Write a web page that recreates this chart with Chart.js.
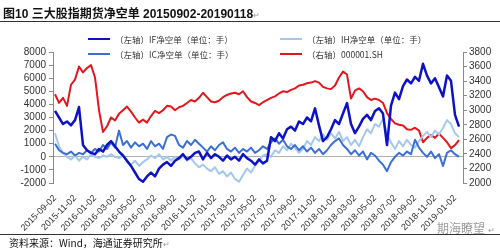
<!DOCTYPE html>
<html>
<head>
<meta charset="utf-8">
<script src="https://cdn.jsdelivr.net/npm/chart.js@4.4.1/dist/chart.umd.min.js"></script>
<style>
  html, body { margin: 0; padding: 0; background: #fff; }
  #wrap { position: relative; width: 500px; height: 250px; overflow: hidden;
          font-family: "Liberation Sans", "Noto Sans CJK SC", sans-serif; }
  #chart { position: absolute; left: 0; top: 0; }
  .title { position: absolute; left: 3px; top: 4px; font-size: 12px; font-weight: bold; color: #111; white-space: nowrap; }
  .rule { position: absolute; left: 0; width: 500px; height: 1px; background: #333; }
  .leg { position: absolute; font-size: 8.5px; color: #333; white-space: nowrap; display: flex; align-items: center;
         font-family: "Noto Sans CJK SC", sans-serif; }
  .leg i { display: inline-block; width: 22px; margin-right: 5px; }
  .src { position: absolute; left: 9px; top: 235px; font-size: 10px; color: #111; white-space: nowrap;
         font-family: "Noto Sans CJK SC", sans-serif; }
  .mark { position: absolute; left: 437px; top: 219px; font-size: 12px; color: #9a9a9a; white-space: nowrap;
          font-family: "Noto Sans CJK SC", sans-serif; }
  .ret { color: #999; font-size: 8px; font-weight: normal; }
</style>
</head>
<body>
<div id="wrap">
  <canvas id="chart" width="500" height="250"></canvas>
  <div class="title">图10 三大股指期货净空单 20150902-20190118<span class="ret">↵</span></div>
  <div class="rule" style="top:21px"></div>
  <div id="legend"></div>
  <div class="rule" style="top:234px"></div>
  <div class="src">资料来源：Wind，海通证券研究所<span class="ret">↵</span></div>
  <div class="mark">期海瞭望 <span class="ret">↵</span></div>
</div>
<script>
/* tick labels every two months */
const tickLabels = ['2015-09-02','2015-11-02','2016-01-02','2016-03-02','2016-05-02','2016-07-02','2016-09-02',
  '2016-11-02','2017-01-02','2017-03-02','2017-05-02','2017-07-02','2017-09-02','2017-11-02','2018-01-02',
  '2018-03-02','2018-05-02','2018-07-02','2018-09-02','2018-11-02','2019-01-02'];

/* samples roughly every 12 days, 2015-09-02 .. 2019-01-18 */
const ifShort = [3500,3000,2500,2700,2400,2800,3800,900,500,300,200,600,400,900,1200,800,400,100,-300,-700,
  -1200,-1700,-1900,-1500,-1200,-1500,-900,-600,-400,-700,-300,-100,200,-200,0,300,400,-200,300,-100,
  200,0,-300,100,-200,0,-300,200,-100,-300,-600,-200,-500,-300,1500,1200,1800,1400,2100,2300,
  2000,2700,2500,3000,2700,3700,2400,1200,1500,2100,2800,2500,3300,4100,2500,1800,2300,2900,3200,2800,
  3500,3700,3300,900,3900,4900,4400,5400,5900,5600,6100,5800,7100,6200,5600,6000,5300,4600,6200,5800,
  3200,2300];
const icShort = [1000,500,300,200,400,100,300,200,500,300,600,400,900,600,1100,700,2000,900,1200,700,
  1100,800,1000,600,1200,800,1000,600,1500,1700,1600,900,700,1200,900,1300,1000,700,400,800,
  500,900,1100,600,400,700,300,600,400,700,300,500,800,600,1100,1400,1000,1300,800,600,
  900,500,800,400,700,300,600,200,500,900,1200,1400,900,600,200,500,100,400,-200,300,
  100,-300,-600,-1100,-400,0,300,100,400,200,1300,700,300,0,400,-100,200,-700,300,500,
  200,0];
const ihShort = [1800,800,300,0,-200,100,-300,0,-200,200,0,-100,100,0,200,0,-100,100,-400,-600,
  -300,-700,-400,-200,100,-100,200,-200,0,-300,0,-200,100,-300,-100,-500,-800,-600,-900,-1100,
  -800,-1300,-1100,-1500,-1200,-1700,-1900,-1400,-900,-1200,-700,-300,100,200,0,500,300,800,500,1000,
  700,300,600,1200,900,1500,1200,1700,1300,1800,1400,1900,1200,1500,900,1300,800,1500,2100,1800,
  2500,2300,2900,1700,1100,600,1200,800,1300,900,700,1200,1600,1900,1500,2000,1700,2200,2800,2500,
  1800,1500];
const shIndex = [3220,3100,3170,3060,3350,3420,3600,3520,3580,3620,3450,3000,2700,2780,2900,2860,2950,3000,3050,2980,
  2900,2830,2870,2830,2920,2990,2960,3000,3060,3050,3000,3040,3060,3100,3140,3120,3170,3240,3180,3120,
  3110,3130,3180,3210,3230,3240,3220,3260,3180,3120,3100,3070,3110,3140,3170,3190,3230,3260,3250,3280,
  3300,3340,3350,3370,3380,3400,3380,3320,3300,3290,3340,3450,3530,3490,3160,3270,3300,3260,3180,3140,
  3160,3140,3100,2960,2880,2820,2800,2790,2740,2730,2760,2720,2560,2620,2660,2620,2680,2620,2560,2480,
  2520,2590];

const seriesNames = ['（左轴）IF净空单（单位：手）','（左轴）IC净空单（单位：手）','（左轴）IH净空单（单位：手）','（右轴）000001.SH'];
const seriesColors = ['#0d12c4','#3c6fd6','#a4c8ec','#e3161e'];

const pts = (arr) => arr.map((v, i) => ({ x: i, y: v }));

/* legend (two columns) */
const legPos = [[88, 33], [88, 48], [280, 33], [280, 48]];
document.getElementById('legend').innerHTML = seriesNames.map((n, k) =>
  `<div class="leg" style="left:${legPos[k][0]}px;top:${legPos[k][1]}px">
     <i style="height:${k === 0 ? 2.5 : 2}px;background:${seriesColors[k]}"></i>${n}</div>`).join('');

const axisGray = '#8a8a8a';
const tickFont = { family: "'Liberation Sans', Arial, sans-serif", size: 10 };

new Chart(document.getElementById('chart').getContext('2d'), {
  type: 'line',
  data: {
    datasets: [
      { label: seriesNames[0], data: pts(ifShort), borderColor: seriesColors[0], borderWidth: 2.5, yAxisID: 'y' },
      { label: seriesNames[1], data: pts(icShort), borderColor: seriesColors[1], borderWidth: 2, yAxisID: 'y' },
      { label: seriesNames[2], data: pts(ihShort), borderColor: seriesColors[2], borderWidth: 2, yAxisID: 'y' },
      { label: seriesNames[3], data: pts(shIndex), borderColor: seriesColors[3], borderWidth: 2, yAxisID: 'y2' },
    ],
  },
  options: {
    responsive: false,
    animation: false,
    layout: { padding: { top: 52, left: 0, right: 0, bottom: 0 } },
    plugins: { legend: { display: false }, tooltip: { enabled: false } },
    elements: { point: { radius: 0 }, line: { tension: 0, borderJoinStyle: 'round' } },
    scales: {
      x: {
        type: 'linear', min: -0.5, max: 102,
        afterBuildTicks: (s) => { s.ticks = tickLabels.map((_, k) => ({ value: k * 5 })); },
        afterFit: (s) => { s.height = 67; },
        grid: { display: false }, border: { display: false },
        ticks: { autoSkip: false, minRotation: 45, maxRotation: 45, padding: 2, color: '#333',
                 font: { ...tickFont, size: 9 }, callback: (v) => tickLabels[Math.round(v / 5)] },
      },
      y: {
        position: 'left', min: -2000, max: 8000,
        afterFit: (s) => { s.width = 53; },
        ticks: { stepSize: 1000, autoSkip: false, color: '#333', font: tickFont, padding: 3,
                 callback: (v) => String(v) },
        grid: { color: (c) => (c.tick && c.tick.value === 0 ? '#b0b0b0' : 'rgba(0,0,0,0)'),
                tickColor: axisGray, tickLength: 4 },
        border: { color: axisGray },
      },
      y2: {
        position: 'right', min: 2000, max: 3800,
        afterFit: (s) => { s.width = 37; },
        ticks: { stepSize: 200, autoSkip: false, color: '#333', font: tickFont, padding: 2,
                 callback: (v) => String(v) },
        grid: { drawOnChartArea: false, tickColor: axisGray, tickLength: 4 },
        border: { color: axisGray },
      },
    },
  },
});
</script>
</body>
</html>
